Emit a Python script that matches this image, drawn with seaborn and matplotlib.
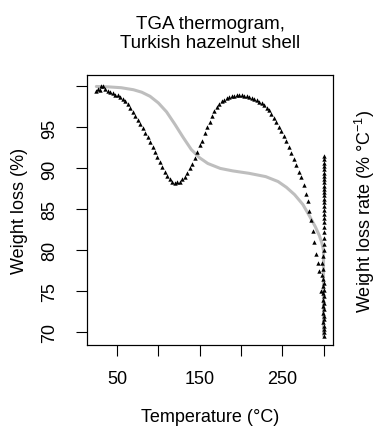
"""
TGA thermogram of Turkish hazelnut shell: weight loss and weight loss rate
"""

import numpy as np
import pandas as pd
import matplotlib
matplotlib.use("Agg")
import matplotlib.pyplot as plt
import seaborn as sns

sns.set_style("ticks")
plt.rcParams["font.family"] = ["Liberation Sans", "DejaVu Sans"]
plt.rcParams["mathtext.fontset"] = "custom"
plt.rcParams["mathtext.rm"] = "Liberation Sans"
plt.rcParams["mathtext.it"] = "Liberation Sans"
plt.rcParams["text.color"] = "black"
plt.rcParams["axes.labelcolor"] = "black"
plt.rcParams["xtick.color"] = "black"
plt.rcParams["ytick.color"] = "black"

# ===== data =====
# weight loss curve (%)
temp_w = [25, 40, 55, 70, 80, 90, 100, 110, 120, 130, 140, 150, 160, 175, 190,
          210, 230, 245, 255, 265, 275, 283, 290, 295, 298, 300, 300, 300]
weight = [100, 99.95, 99.85, 99.6, 99.3, 98.8, 98.0, 96.9, 95.4, 93.8, 92.3,
          91.3, 90.6, 90.0, 89.7, 89.4, 89.0, 88.4, 87.7, 86.8, 85.6, 84.2,
          82.9, 81.8, 80.9, 80.0, 75.0, 69.6]

# weight loss rate (no scale drawn in the reference; values in plot position units)
temp_r = [25, 27, 29, 31, 33, 36, 39, 42, 45, 48, 51, 54, 57, 60, 63, 66, 69,
          72, 75, 78, 81, 84, 87, 90, 93, 96, 99, 102, 105, 108, 111, 114, 117,
          120, 123, 126, 129, 132, 135, 138, 141, 144, 147, 150, 153, 156, 159,
          162, 165, 168, 171, 174, 177, 180, 183, 186, 189, 192, 195, 198, 201,
          204, 207, 210, 213, 216, 219, 222, 225, 228, 231, 234, 237, 240, 243,
          246, 249, 252, 255, 258, 261, 264, 267, 270, 273, 276, 279, 281, 283,
          285, 287, 289, 291, 293, 295, 297,
          300, 300, 300, 300, 300, 300, 300, 300, 300, 300, 300, 300, 300, 300,
          300, 300, 300, 300, 300, 300, 300, 300, 300, 300, 300, 299, 298, 299,
          298, 299, 300, 299, 300, 299, 300, 299, 300, 299, 300, 299, 300, 300,
          299, 300, 300, 300, 300]
rate = [99.5, 99.7, 99.6, 100.1, 100.0, 99.7, 99.5, 99.3, 99.2, 99.0, 98.9,
        98.7, 98.5, 98.2, 97.9, 97.4, 96.9, 96.4, 95.9, 95.4, 94.9, 94.3, 93.8,
        93.2, 92.6, 92.0, 91.4, 90.8, 90.2, 89.6, 89.1, 88.7, 88.4, 88.2, 88.3,
        88.4, 88.7, 89.0, 89.5, 90.0, 90.6, 91.3, 92.0, 92.8, 93.4, 94.3, 95.0,
        95.7, 96.4, 97.0, 97.5, 97.9, 98.2, 98.4, 98.6, 98.7, 98.8, 98.85, 98.9,
        98.9, 98.9, 98.85, 98.8, 98.75, 98.6, 98.5, 98.35, 98.15, 97.95, 97.7,
        97.4, 97.1, 96.7, 96.2, 95.7, 95.1, 94.6, 93.9, 93.3, 92.6, 91.9, 91.2,
        90.4, 89.6, 89.0, 88.0, 86.9, 86.0, 84.8, 83.7, 82.4, 81.0, 79.6, 78.5,
        77.5, 75.0,
        91.5, 91.1, 90.7, 90.3, 89.9, 89.5, 89.1, 88.7, 88.3, 87.9, 87.5, 87.1,
        86.7, 86.3, 85.9, 85.4, 84.9, 84.4, 83.9, 83.4, 82.8, 82.2, 81.5, 80.8,
        80.1, 79.3, 78.5, 77.7, 77.0, 76.5, 76.0, 75.6, 75.2, 74.8, 74.4, 74.0,
        73.6, 73.2, 72.8, 72.4, 72.0, 71.6, 71.2, 70.8, 70.4, 70.0, 69.6]

XTICKS = [50, 100, 150, 200, 250, 300]
XTICKLABELS = ["50", "", "150", "", "250", ""]
YTICKS = [70, 75, 80, 85, 90, 95, 100]
YTICKLABELS = ["70", "75", "80", "85", "90", "95", ""]

df_w = pd.DataFrame({"Temperature": temp_w, "Weight": weight})
df_r = pd.DataFrame({"Temperature": temp_r, "Rate": rate})

# ===== figure =====
fig = plt.figure(figsize=(3.77, 4.27), dpi=100)
ax = fig.add_axes([0.2308, 0.1897, 0.6525, 0.6323])

sns.lineplot(data=df_w, x="Temperature", y="Weight", ax=ax, sort=False,
             estimator=None, color="#bebebe", linewidth=2.2)
ax2 = ax.twinx()
sns.scatterplot(data=df_r, x="Temperature", y="Rate", ax=ax2, marker="^",
                color="black", s=10, linewidth=0)

for a in (ax, ax2):
    a.set_xlim(13.7, 311.5)
    a.set_ylim(68.45, 101.4)
    for sp in a.spines.values():
        sp.set_visible(True)
        sp.set_linewidth(0.8)
        sp.set_color("black")

ax.set_xticks(XTICKS)
ax.set_xticklabels(XTICKLABELS, fontsize=13)
ax.set_yticks(YTICKS)
ax.set_yticklabels(YTICKLABELS, fontsize=13, rotation=90, va="center")
ax.tick_params(axis="x", length=8, width=0.8, pad=10)
ax.tick_params(axis="y", length=8, width=0.8, pad=13)
ax2.set_yticks([])
ax2.tick_params(axis="y", length=0)

ax.set_xlabel("Temperature (°C)", fontsize=13, labelpad=15)
ax.set_ylabel("Weight loss (%)", fontsize=13, labelpad=9)
ax2.set_ylabel("Weight loss rate (% °C$^{-1}$)", fontsize=13, labelpad=14)
ax.set_title("TGA thermogram,\nTurkish hazelnut shell", fontsize=13.5,
             pad=20, linespacing=1.15)

plt.savefig("out.png", dpi=100)
plt.close()
print("Saved: out.png")
